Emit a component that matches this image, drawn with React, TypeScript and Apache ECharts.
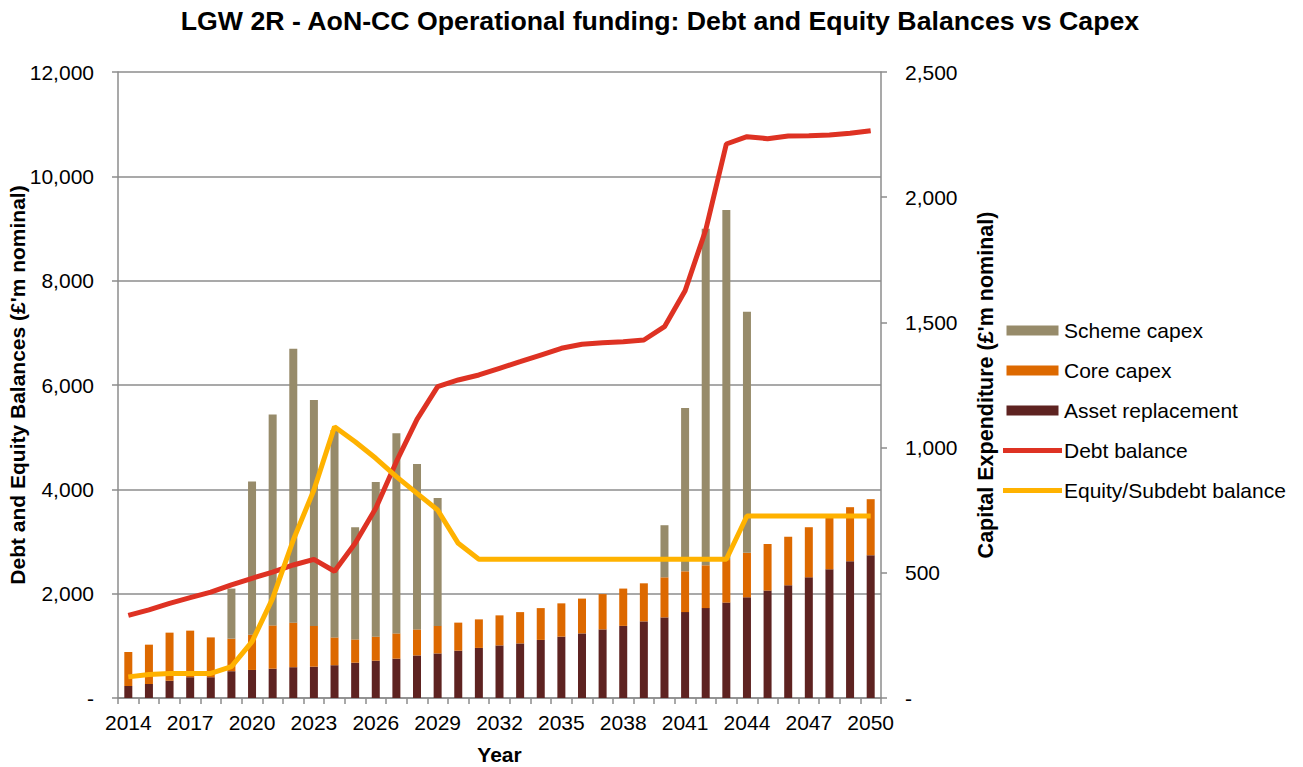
import React, { useEffect, useRef } from "react";
import * as echarts from "echarts";

const years = Array.from({ length: 37 }, (_, i) => String(2014 + i));

const assetReplacement = [
  48, 56, 69, 83, 83, 107, 112, 117, 123, 125, 131, 141, 149, 157, 170, 178, 189, 200, 210,
  218, 232, 245, 258, 274, 288, 306, 322, 343, 359, 381, 402, 429, 450, 482, 514, 546, 570,
];
const coreCapex = [
  136, 157, 192, 186, 159, 130, 141, 173, 178, 163, 111, 93, 96, 101, 104, 110, 112, 114, 120,
  125, 127, 133, 139, 141, 149, 152, 160, 163, 171, 170, 178, 186, 194, 200, 208, 216, 224,
];
const schemeCapex = [
  0, 0, 0, 0, 0, 200, 612, 842, 1094, 902, 828, 448, 618, 799, 661, 511, 0, 0, 0,
  0, 0, 0, 0, 0, 0, 0, 208, 652, 1344, 1398, 963, 0, 0, 0, 0, 0, 0,
];
const debtBalance = [
  1585, 1690, 1815, 1925, 2030, 2170, 2294, 2415, 2550, 2659, 2430, 2965, 3636, 4530, 5342,
  5968, 6096, 6192, 6320, 6447, 6575, 6703, 6780, 6811, 6830, 6863, 7118, 7808, 8972, 10620,
  10760, 10722, 10774, 10779, 10793, 10825, 10875,
];
const equityBalance = [
  405, 450, 470, 470, 470, 600, 1080, 1911, 3029, 3987, 5201, 4913, 4595, 4243, 3923, 3604,
  2965, 2659, 2659, 2659, 2659, 2659, 2659, 2659, 2659, 2659, 2659, 2659, 2659, 2659, 3489,
  3489, 3489, 3489, 3489, 3489, 3489,
];

const FONT = "'Liberation Sans', Arial, sans-serif";
const fmt = (v: number) => (v === 0 ? "-" : v.toLocaleString("en-US"));
const LINE_ICON = "path://M0,0H59V5H0Z";
const RECT_ICON = "path://M0,0H52V10H0Z";

export default function App() {
  const ref = useRef<HTMLDivElement>(null);
  useEffect(() => {
    if (!ref.current) return;
    const chart = echarts.init(ref.current, undefined, { renderer: "svg" });
    const axisGrey = "#8c8c8c";
    chart.setOption({
      animation: false,
      backgroundColor: "#ffffff",
      textStyle: { fontFamily: FONT, color: "#000" },
      title: {
        text: "LGW 2R - AoN-CC Operational funding: Debt and Equity Balances vs Capex",
        left: 655,
        top: 2,
        textAlign: "center",
        textStyle: { fontFamily: FONT, fontSize: 26.7, fontWeight: "bold", color: "#000" },
      },
      legend: {
        orient: "vertical",
        left: 1003,
        top: 320,
        padding: 0,
        itemGap: 19,
        itemWidth: 59,
        itemHeight: 10,
        symbolKeepAspect: true,
        lineStyle: { width: "inherit" },
        textStyle: { fontFamily: FONT, fontSize: 21, color: "#000", padding: [0, 0, 0, -3] },
        data: [
          { name: "Scheme capex", icon: RECT_ICON },
          { name: "Core capex", icon: RECT_ICON },
          { name: "Asset replacement", icon: RECT_ICON },
          { name: "Debt balance", icon: LINE_ICON },
          { name: "Equity/Subdebt balance", icon: LINE_ICON },
        ],
      },
      grid: { left: 118, right: 422, top: 72, bottom: 69, outerBoundsMode: "none", containLabel: false },
      xAxis: {
        type: "category",
        data: years,
        boundaryGap: true,
        name: "Year",
        nameLocation: "middle",
        nameGap: 46,
        nameTextStyle: { fontFamily: FONT, fontSize: 21, fontWeight: "bold", color: "#000" },
        axisLine: { lineStyle: { color: axisGrey, width: 1.5 } },
        axisTick: { show: true, interval: 0, length: 6, lineStyle: { color: axisGrey, width: 1.5 } },
        axisLabel: { interval: 2, margin: 14, fontFamily: FONT, fontSize: 21, color: "#000" },
      },
      yAxis: [
        {
          type: "value",
          min: 0,
          max: 12000,
          interval: 2000,
          name: "Debt and Equity Balances (£'m nominal)",
          nameLocation: "middle",
          nameGap: 90,
          nameRotate: 90,
          nameMoveOverlap: false,
          nameTextStyle: { fontFamily: FONT, fontSize: 21, fontWeight: "bold", color: "#000" },
          axisLine: { show: true, lineStyle: { color: axisGrey, width: 1.5 } },
          axisTick: { show: true, length: 6, lineStyle: { color: axisGrey, width: 1.5 } },
          axisLabel: { formatter: fmt, margin: 24, fontFamily: FONT, fontSize: 21, color: "#000" },
          splitLine: { show: true, lineStyle: { color: axisGrey, width: 1.5 } },
        },
        {
          type: "value",
          min: 0,
          max: 2500,
          interval: 500,
          name: "Capital Expenditure (£'m nominal)",
          nameLocation: "middle",
          nameGap: 94,
          nameRotate: 90,
          nameMoveOverlap: false,
          nameTextStyle: { fontFamily: FONT, fontSize: 21.5, fontWeight: "bold", color: "#000" },
          axisLine: { show: true, lineStyle: { color: axisGrey, width: 1.5 } },
          axisTick: { show: true, length: 6, lineStyle: { color: axisGrey, width: 1.5 } },
          axisLabel: { formatter: fmt, margin: 24, fontFamily: FONT, fontSize: 21, color: "#000" },
          splitLine: { show: false },
        },
      ],
      series: [
        {
          name: "Asset replacement",
          type: "bar",
          stack: "capex",
          yAxisIndex: 1,
          barWidth: 8,
          data: assetReplacement,
          itemStyle: { color: "#5e2321" },
        },
        {
          name: "Core capex",
          type: "bar",
          stack: "capex",
          yAxisIndex: 1,
          barWidth: 8,
          data: coreCapex,
          itemStyle: { color: "#dd6900" },
        },
        {
          name: "Scheme capex",
          type: "bar",
          stack: "capex",
          yAxisIndex: 1,
          barWidth: 8,
          data: schemeCapex,
          itemStyle: { color: "#978b6a" },
        },
        {
          name: "Debt balance",
          type: "line",
          yAxisIndex: 0,
          data: debtBalance,
          symbol: "none",
          lineStyle: { color: "#de3223", width: 5 },
          itemStyle: { color: "#de3223" },
          z: 3,
        },
        {
          name: "Equity/Subdebt balance",
          type: "line",
          yAxisIndex: 0,
          data: equityBalance,
          symbol: "none",
          lineStyle: { color: "#ffb200", width: 5 },
          itemStyle: { color: "#ffb200" },
          z: 4,
        },
      ],
    });
    return () => chart.dispose();
  }, []);
  return (
    <div
      ref={ref}
      style={{ position: "absolute", left: 0, top: 0, width: 1303, height: 767, background: "#fff" }}
    />
  );
}
